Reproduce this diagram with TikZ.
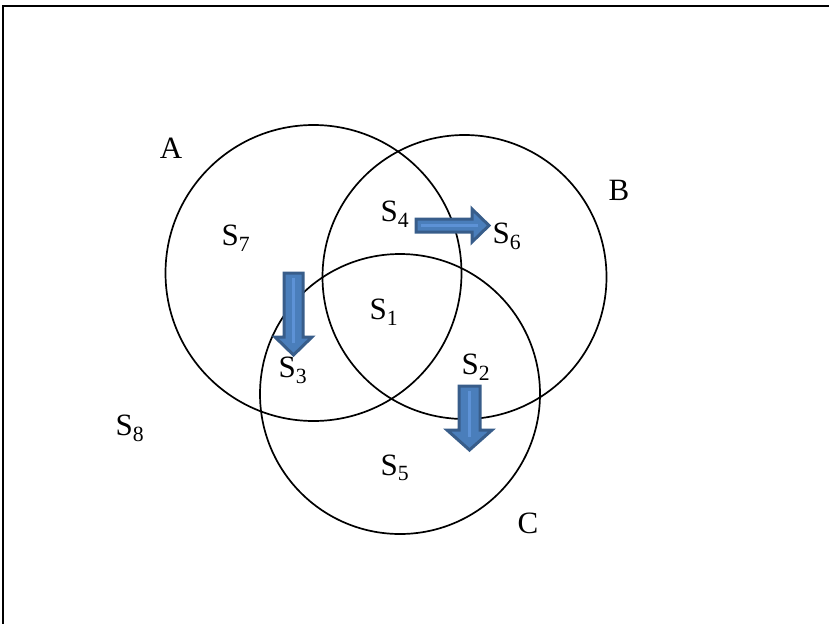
\documentclass[tikz,border=0pt]{standalone}
\usepackage{fontspec}
\setmainfont{Liberation Serif}
\begin{document}
\begin{tikzpicture}[x=1pt,y=-1pt,
  setc/.style={draw=black,line width=1.7pt},
  lbl/.style={inner sep=0pt,font=\fontsize{31}{36}\selectfont},
  blockarrow/.style={fill=arrowfill,draw=arroweddge,line width=3pt,line join=miter},
  innerarrow/.style={draw=arrowlight,line width=2.5pt}]
\definecolor{arrowfill}{HTML}{4A7EBB}
\definecolor{arroweddge}{HTML}{385D8A}
\definecolor{arrowlight}{HTML}{5D92D6}
\useasboundingbox (0,0) rectangle (829,624);
% frame (top and left edges)
\draw[line width=1.5pt] (829,6) -- (3,6) -- (3,624);
% circles
\draw[setc] (313.5,273) circle (148);
\draw[setc] (464.5,277) circle (142);
\draw[setc] (400,394) circle (140);
% labels
\node[lbl] (A) at (171,148) {A};
\node[lbl] (B) at (619,190) {B};
\node[lbl] (C) at (528,523) {C};
\node[lbl] (s7) at (236,238) {S\textsubscript{7}};
\node[lbl] (s4) at (395,214) {S\textsubscript{4}};
\node[lbl] (s6) at (507,236) {S\textsubscript{6}};
\node[lbl] (s1) at (384,312) {S\textsubscript{1}};
\node[lbl] (s3) at (293,370) {S\textsubscript{3}};
\node[lbl] (s2) at (476,367) {S\textsubscript{2}};
\node[lbl] (s8) at (130,428) {S\textsubscript{8}};
\node[lbl] (s5) at (395,468) {S\textsubscript{5}};
% block arrows
% right arrow S4 -> S6
\draw[blockarrow] (416,219) -- (472,219) -- (472,209) -- (489,225.5) -- (472,242) -- (472,232) -- (416,232) -- cycle;
\draw[innerarrow] (421,225.5) -- (478,225.5);
% down arrow near S3
\draw[blockarrow] (284,273) -- (303,273) -- (303,337) -- (312,337) -- (293.5,355) -- (275,337) -- (284,337) -- cycle;
\draw[innerarrow] (293.5,278) -- (293.5,343);
% down arrow near S2
\draw[blockarrow] (459,386) -- (480,386) -- (480,430) -- (492,430) -- (469.5,450) -- (447,430) -- (459,430) -- cycle;
\draw[innerarrow] (469.5,391) -- (469.5,437);
\end{tikzpicture}
\end{document}
